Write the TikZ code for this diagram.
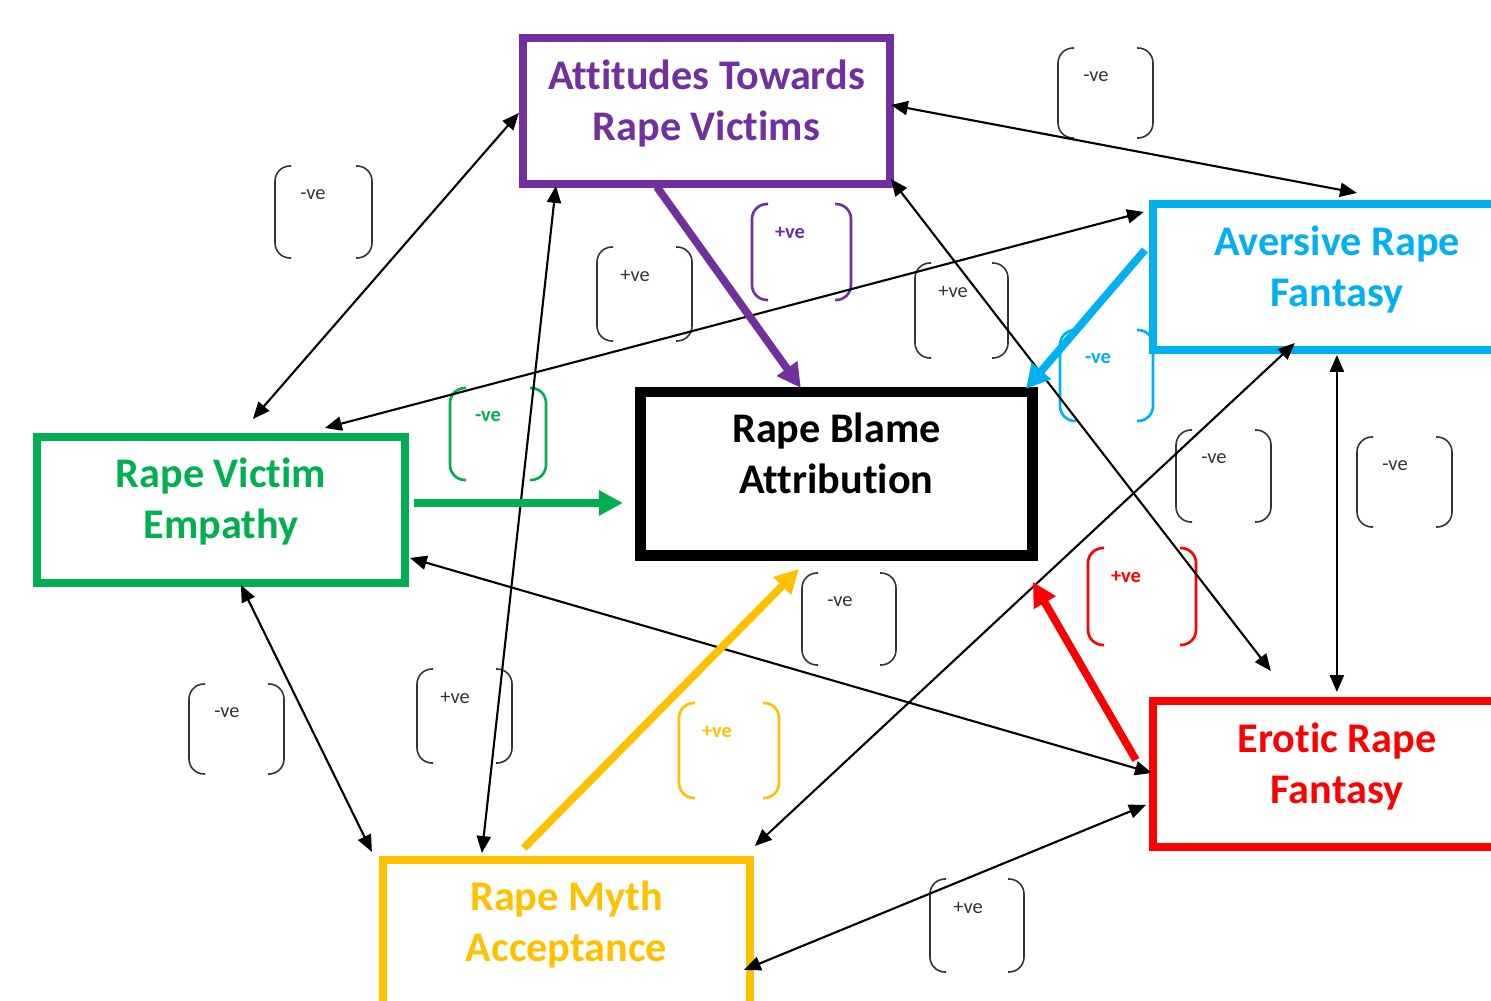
\documentclass[tikz,border=0pt]{standalone}
\usepackage{fontspec}
\setmainfont{Carlito}[Ligatures=NoCommon]
\usetikzlibrary{arrows.meta}
\definecolor{cpurple}{HTML}{7030A0}
\definecolor{cblue}{HTML}{00B0F0}
\definecolor{cgreen}{HTML}{00B050}
\definecolor{cyellow}{HTML}{FFC000}
\definecolor{cred}{HTML}{FF0000}
\definecolor{cgray}{HTML}{333333}
\tikzset{
  box/.style={draw, rectangle, line width=2.3pt, outer sep=0pt, inner sep=0pt},
  title/.style={font=\fontsize{12pt}{14.5pt}\bfseries\selectfont, align=center, inner sep=0pt},
  link/.style={line width=0.6pt, {Triangle[length=4.8pt,width=4pt]}-{Triangle[length=4.8pt,width=4pt]}},
  flow/.style={line width=2.2pt, -{Triangle[length=6.8pt,width=6.8pt]}},
  thinbr/.style={draw=cgray, line width=0.45pt},
  boldbr/.style={line width=0.75pt},
  vetext/.style={font=\fontsize{5.8pt}{7pt}\selectfont, inner sep=0pt},
  vebold/.style={font=\fontsize{5.8pt}{7pt}\bfseries\selectfont, inner sep=0pt}
}
% x1 y1 x2 y2 bracket-style text-style label name
\newcommand{\vebracket}[8]{%
  \draw[#5, rounded corners=0.15cm] (#1+16,#2) -- (#1,#2) -- (#1,#4) -- (#1+16,#4);
  \draw[#5, rounded corners=0.15cm] (#3-16,#2) -- (#3,#2) -- (#3,#4) -- (#3-16,#4);
  \node[#6] (#8) at (#1+38,#2+29) {#7};
}
\begin{document}
\begin{tikzpicture}[x=0.01cm,y=-0.01cm]
\useasboundingbox (0,0) rectangle (1491,1000);
\fill[white] (0,0) rectangle (1491,1000);
\clip (0,0) rectangle (1491,1000);

% sign brackets
\vebracket{275}{166}{372}{258}{thinbr}{vetext,text=cgray}{-ve}{s1}
\vebracket{597}{247}{692}{341}{thinbr}{vetext,text=cgray}{+ve}{s2}
\vebracket{752}{204}{851}{300}{boldbr,draw=cpurple}{vebold,text=cpurple}{+ve}{s3}
\vebracket{915}{263}{1008}{358}{thinbr}{vetext,text=cgray}{+ve}{s4}
\vebracket{1058}{48}{1153}{138}{thinbr}{vetext,text=cgray}{-ve}{s5}
\vebracket{1060}{330}{1153}{421}{boldbr,draw=cblue}{vebold,text=cblue}{-ve}{s6}
\vebracket{450}{388}{546}{480}{boldbr,draw=cgreen}{vebold,text=cgreen}{-ve}{s7}
\vebracket{1176}{430}{1271}{522}{thinbr}{vetext,text=cgray}{-ve}{s8}
\vebracket{1357}{437}{1452}{527}{thinbr}{vetext,text=cgray}{-ve}{s9}
\vebracket{1088}{548}{1196}{645}{boldbr,draw=cred}{vebold,text=cred}{+ve}{s10}
\vebracket{802}{573}{896}{665}{thinbr}{vetext,text=cgray}{-ve}{s11}
\vebracket{679}{703}{779}{798}{boldbr,draw=cyellow}{vebold,text=cyellow}{+ve}{s12}
\vebracket{189}{684}{284}{774}{thinbr}{vetext,text=cgray}{-ve}{s13}
\vebracket{417}{669}{512}{763}{thinbr}{vetext,text=cgray}{+ve}{s14}
\vebracket{930}{879}{1024}{972}{thinbr}{vetext,text=cgray}{+ve}{s15}

% boxes
\node[box, draw=cpurple, minimum width=3.67cm, minimum height=1.46cm] (atrv) at (706.5,111) {};
\node[box, draw=black, line width=3.1pt, minimum width=3.91cm, minimum height=1.63cm] (rba) at (836.5,473.5) {};
\node[box, draw=cblue, minimum width=3.68cm, minimum height=1.46cm] (arf) at (1337,277) {};
\node[box, draw=cred, minimum width=3.68cm, minimum height=1.46cm] (erf) at (1337,774) {};
\node[box, draw=cgreen, minimum width=3.68cm, minimum height=1.46cm] (rve) at (221,510) {};
\node[box, draw=cyellow, minimum width=3.67cm, minimum height=1.46cm] (rma) at (566.5,933) {};

% titles
\node[title, text=cpurple] (atrvt) at (706.5,105) {\strut Attitudes Towards\\\strut Rape Victims};
\node[title, text=black] (rbat) at (836.5,458) {\strut Rape Blame\\\strut Attribution};
\node[title, text=cblue] (arft) at (1337,271) {\strut Aversive Rape\\\strut Fantasy};
\node[title, text=cred] (erft) at (1337,767.5) {\strut Erotic Rape\\\strut Fantasy};
\node[title, text=cgreen] (rvet) at (221,502.5) {\strut Rape Victim\\\strut Empathy};
\node[title, text=cyellow] (rmat) at (566.5,925.5) {\strut Rape Myth\\\strut Acceptance};

% thin two-way links
\draw[link] ([shift={(-4,75)}]atrv.north west) -- ([shift={(216,-18)}]rve.north west);
\draw[link] ([shift={(368,67)}]atrv.north west) -- ([shift={(204,-11)}]arf.north west);
\draw[link] ([shift={(368,141)}]atrv.north west) -- ([shift={(118,-30)}]erf.north west);
\draw[link] ([shift={(33,148)}]atrv.north west) -- ([shift={(99,-7)}]rma.north west);
\draw[link] ([shift={(-9,8)}]arf.north west) -- ([shift={(288,-9)}]rve.north west);
\draw[link] ([shift={(142,139)}]arf.north west) -- ([shift={(372,-14)}]rma.north west);
\draw[link] ([shift={(184,151)}]arf.north west) -- ([shift={(184,-9)}]erf.north west);
\draw[link] ([shift={(373,121)}]rve.north west) -- ([shift={(-1,72)}]erf.north west);
\draw[link] ([shift={(204,148)}]rve.north west) -- ([shift={(-11,-8)}]rma.north west);
\draw[link] ([shift={(361,110)}]rma.north west) -- ([shift={(-7,104)}]erf.north west);

% thick arrows into Rape Blame Attribution
\draw[flow, cpurple] ([shift={(134,149)}]atrv.north west) -- ([shift={(160,-4)}]rba.north west);
\draw[flow, cblue] ([shift={(-8,46)}]arf.north west) -- ([shift={(385,-3)}]rba.north west);
\draw[flow, cgreen] ([shift={(377,66)}]rve.north west) -- ([shift={(-18,111)}]rba.north west);
\draw[flow, cyellow] ([shift={(141,-12)}]rma.north west) -- ([shift={(158,177)}]rba.north west);
\draw[flow, cred] ([shift={(-17,59)}]erf.north west) -- ([shift={(392,190)}]rba.north west);
\end{tikzpicture}
\end{document}
